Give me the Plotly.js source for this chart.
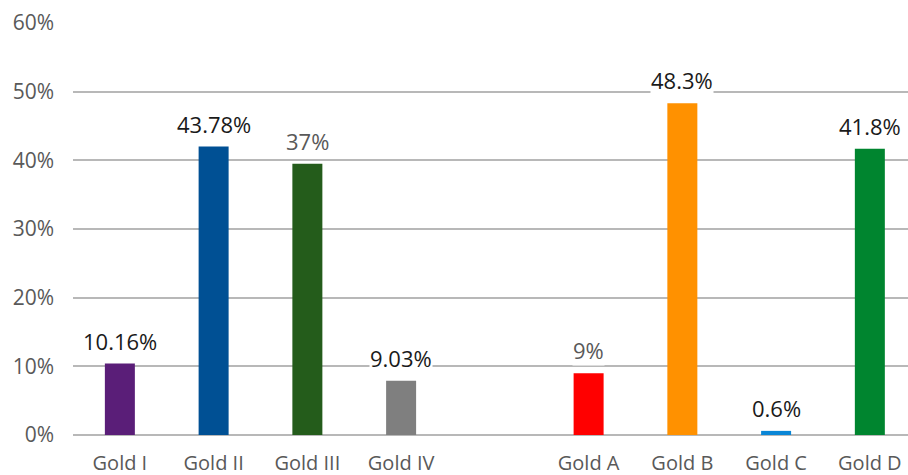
<!DOCTYPE html>
<html>
<head>
<meta charset="utf-8">
<script src="https://cdn.plot.ly/plotly-3.0.1.min.js"></script>
<style>html,body{margin:0;padding:0;background:#fff;}#chart{width:908px;height:475px;}</style>
</head>
<body>
<div id="chart"></div>
<script>
// Categories (blank spacer slot between the two groups)
const categories = ['Gold I', 'Gold II', 'Gold III', 'Gold IV', ' ', 'Gold A', 'Gold B', 'Gold C', 'Gold D'];
// Bar heights as drawn (percent)
const values = [10.4, 42.0, 39.5, 7.9, null, 9.0, 48.3, 0.6, 41.7];
// Data labels as printed
const labels = ['10.16%', '43.78%', '37%', '9.03%', '', '9%', '48.3%', '0.6%', '41.8%'];
const labelColors = ['#1a1a1a', '#1a1a1a', '#595959', '#1a1a1a', '#000', '#595959', '#1a1a1a', '#1a1a1a', '#1a1a1a'];
const barColors = ['#5a1e78', '#005094', '#245c1b', '#7f7f7f', '#ffffff', '#ff0000', '#ff9100', '#0a86d6', '#00852f'];
const yTicks = [0, 10, 20, 30, 40, 50, 60];
const yTickText = ['0%', '10%', '20%', '30%', '40%', '50%', '60%'];

const trace = {
  type: 'bar',
  x: categories,
  y: values,
  marker: { color: barColors },
  hoverinfo: 'none'
};

const annotations = categories.map((c, i) => labels[i] ? ({
  x: c, y: values[i], xref: 'x', yref: 'y',
  text: labels[i], showarrow: false,
  yanchor: 'middle', yshift: 23,
  bgcolor: '#ffffff', borderpad: 0,
  font: { family: 'Open Sans, sans-serif', size: 22, color: labelColors[i] }
}) : null).filter(a => a);

const layout = {
  width: 908, height: 475,
  margin: { l: 73, r: 0, t: 23, b: 40 },
  paper_bgcolor: '#ffffff', plot_bgcolor: '#ffffff',
  showlegend: false,
  bargap: 0.68,
  xaxis: {
    type: 'category',
    categoryorder: 'array', categoryarray: categories,
    range: [-0.5, 8.407],
    showgrid: false, zeroline: false, showline: false,
    ticks: '', ticklabelstandoff: 14,
    tickfont: { family: 'Open Sans, sans-serif', size: 20, color: '#595959' }
  },
  yaxis: {
    range: [0, 60],
    tickvals: yTicks, ticktext: yTickText,
    showgrid: true, gridcolor: '#b8b8b8', gridwidth: 2,
    zeroline: true, zerolinecolor: '#b8b8b8', zerolinewidth: 2,
    showline: false, ticks: '', ticklabelstandoff: 18,
    tickfont: { family: 'Open Sans, sans-serif', size: 21, color: '#595959' }
  },
  annotations: annotations
};

Plotly.newPlot('chart', [trace], layout, { displayModeBar: false, staticPlot: true });
</script>
</body>
</html>
